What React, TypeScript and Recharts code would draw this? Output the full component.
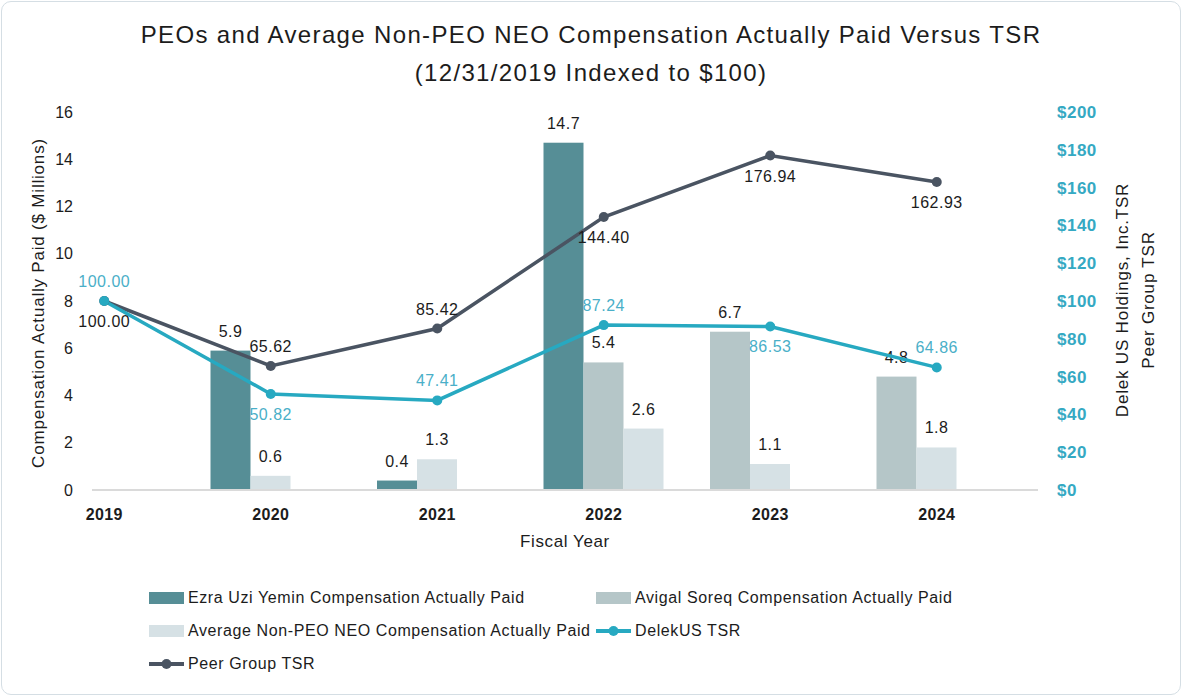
import React from 'react';
import { ComposedChart, Bar, Line, XAxis, YAxis, LabelList } from 'recharts';

const years = ['2019', '2020', '2021', '2022', '2023', '2024'];
const ezraCap = [null, 5.9, 0.4, 14.7, null, null];
const avigalCap = [null, null, null, 5.4, 6.7, 4.8];
const avgNeoCap = [null, 0.6, 1.3, 2.6, 1.1, 1.8];
const delekTsr = [100.0, 50.82, 47.41, 87.24, 86.53, 64.86];
const peerTsr = [100.0, 65.62, 85.42, 144.4, 176.94, 162.93];
const leftTicks = [0, 2, 4, 6, 8, 10, 12, 14, 16];
const rightTicks = [0, 20, 40, 60, 80, 100, 120, 140, 160, 180, 200];

// which side of the point each line label sits on: 1 above, -1 below
const delekLabelSide = [1, -1, 1, 1, -1, 1];
const peerLabelSide = [-1, 1, 1, -1, -1, -1];

const data = years.map((year, i) => ({
  year,
  ezra: ezraCap[i],
  avigal: avigalCap[i],
  avg: avgNeoCap[i],
  delek: delekTsr[i],
  peer: peerTsr[i],
}));

const C = {
  ezra: '#568e96',
  avigal: '#b5c6c8',
  avg: '#d6e1e5',
  delek: '#27a9c1',
  delekText: '#4aafc8',
  peer: '#4a5462',
  text: '#1c1c1c',
  axis: '#dadada',
};

const barKeys = ['ezra', 'avigal', 'avg'];

// bars are packed to the left when an earlier series has no value that year
const packedBar = (key: string) => (props: any) => {
  const { x, y, width, height, fill, payload } = props;
  const v = payload ? payload[key] : null;
  if (v == null || !width) return <g />;
  const before = barKeys
    .slice(0, barKeys.indexOf(key))
    .filter((k) => payload[k] == null).length;
  const bx = x - before * width;
  return (
    <g>
      <rect x={bx} y={y} width={width} height={height} fill={fill} />
      <text
        x={bx + width / 2}
        y={y - 14}
        textAnchor="middle"
        fontSize={16}
        letterSpacing={0.5}
        fill={C.text}
      >
        {Number(v).toFixed(1)}
      </text>
    </g>
  );
};

const lineLabel = (sides: number[], color: string) => (props: any) => {
  const { x, y, value, index } = props;
  const up = sides[index] > 0;
  return (
    <text
      x={x}
      y={up ? y - 14 : y + 26}
      textAnchor="middle"
      fontSize={16}
      letterSpacing={0.5}
      fill={color}
    >
      {Number(value).toFixed(2)}
    </text>
  );
};

const Swatch = ({ color }: { color: string }) => (
  <svg width={35} height={12} style={{ display: 'block' }}>
    <rect x={0} y={0} width={35} height={12} fill={color} />
  </svg>
);

const LineIcon = ({ color }: { color: string }) => (
  <svg width={35} height={12} style={{ display: 'block' }}>
    <line x1={0} y1={6} x2={35} y2={6} stroke={color} strokeWidth={4} />
    <circle cx={17.5} cy={6} r={5} fill={color} />
  </svg>
);

const legendItems = [
  { name: 'Ezra Uzi Yemin Compensation Actually Paid', icon: <Swatch color={C.ezra} />, left: 149, top: 598 },
  { name: 'Avigal Soreq Compensation Actually Paid', icon: <Swatch color={C.avigal} />, left: 596, top: 598 },
  { name: 'Average Non-PEO NEO Compensation Actually Paid', icon: <Swatch color={C.avg} />, left: 149, top: 631 },
  { name: 'DelekUS TSR', icon: <LineIcon color={C.delek} />, left: 596, top: 631 },
  { name: 'Peer Group TSR', icon: <LineIcon color={C.peer} />, left: 149, top: 664 },
];

export default function App() {
  return (
    <div
      style={{
        position: 'absolute',
        left: 0,
        top: 0,
        width: 1182,
        height: 696,
        background: '#fff',
        fontFamily: '"Liberation Sans", Arial, sans-serif',
        color: C.text,
        overflow: 'hidden',
      }}
    >
      <div
        style={{
          position: 'absolute',
          left: 1,
          top: 1,
          width: 1180,
          height: 694,
          boxSizing: 'border-box',
          border: '1.5px solid #d5dee4',
          borderRadius: 10,
        }}
      />
      <div
        style={{
          position: 'absolute',
          left: 0,
          top: 16,
          width: 1182,
          textAlign: 'center',
          fontSize: 24,
          lineHeight: '38px',
          letterSpacing: 1.35,
        }}
      >
        PEOs and Average Non-PEO NEO Compensation Actually Paid Versus TSR
        <br />
        (12/31/2019 Indexed to $100)
      </div>

      <div style={{ position: 'absolute', left: 0, top: 0 }}>
        <ComposedChart
          width={1182}
          height={696}
          data={data}
          barGap={0}
          margin={{ top: 112, right: 0, bottom: 0, left: 0 }}
        >
          <XAxis
            dataKey="year"
            interval={0}
            padding={{ left: -71, right: 18 }}
            height={206}
            axisLine={{ stroke: C.axis, strokeWidth: 2 }}
            tickLine={false}
            tickSize={0}
            tickMargin={19}
            tick={{ fontSize: 16, fontWeight: 700, fill: C.text, letterSpacing: 0.3 }}
            label={{
              value: 'Fiscal Year',
              position: 'insideTop',
              offset: 45,
              fontSize: 17,
              letterSpacing: 0.6,
              fill: C.text,
            }}
          />
          <YAxis
            yAxisId="left"
            orientation="left"
            domain={[0, 16]}
            ticks={leftTicks}
            width={92}
            axisLine={false}
            tickLine={false}
            tickSize={0}
            tickMargin={19}
            tick={{ fontSize: 16, fill: C.text }}
          />
          <YAxis
            yAxisId="right"
            orientation="right"
            domain={[0, 200]}
            ticks={rightTicks}
            width={144}
            axisLine={false}
            tickLine={false}
            tickSize={0}
            tickMargin={19}
            tickFormatter={(v) => `$${v}`}
            tick={{ fontSize: 17, fontWeight: 700, fill: '#35a9c3', letterSpacing: 0.5 }}
          />
          <Bar yAxisId="left" dataKey="ezra" fill={C.ezra} barSize={40} shape={packedBar('ezra')} isAnimationActive={false} />
          <Bar yAxisId="left" dataKey="avigal" fill={C.avigal} barSize={40} shape={packedBar('avigal')} isAnimationActive={false} />
          <Bar yAxisId="left" dataKey="avg" fill={C.avg} barSize={40} shape={packedBar('avg')} isAnimationActive={false} />
          <Line
            yAxisId="right"
            dataKey="peer"
            stroke={C.peer}
            strokeWidth={3.5}
            dot={{ r: 5, fill: C.peer, stroke: C.peer, strokeWidth: 0 }}
            activeDot={false}
            isAnimationActive={false}
          >
            <LabelList dataKey="peer" content={lineLabel(peerLabelSide, C.text)} />
          </Line>
          <Line
            yAxisId="right"
            dataKey="delek"
            stroke={C.delek}
            strokeWidth={3.5}
            dot={{ r: 5, fill: C.delek, stroke: C.delek, strokeWidth: 0 }}
            activeDot={false}
            isAnimationActive={false}
          >
            <LabelList dataKey="delek" content={lineLabel(delekLabelSide, C.delekText)} />
          </Line>
        </ComposedChart>
      </div>

      <svg
        width={1182}
        height={696}
        style={{ position: 'absolute', left: 0, top: 0, pointerEvents: 'none' }}
      >
        <text
          x={38}
          y={303}
          transform="rotate(-90 38 303)"
          textAnchor="middle"
          dominantBaseline="central"
          fontSize={17}
          letterSpacing={0.8}
          fill={C.text}
        >
          Compensation Actually Paid ($ Millions)
        </text>
        <text
          x={1122}
          y={300}
          transform="rotate(-90 1122 300)"
          textAnchor="middle"
          dominantBaseline="central"
          fontSize={17}
          letterSpacing={0.8}
          fill={C.text}
        >
          Delek US Holdings, Inc.TSR
        </text>
        <text
          x={1148}
          y={300}
          transform="rotate(-90 1148 300)"
          textAnchor="middle"
          dominantBaseline="central"
          fontSize={17}
          letterSpacing={0.8}
          fill={C.text}
        >
          Peer Group TSR
        </text>
      </svg>

      {legendItems.map((item) => (
        <div
          key={item.name}
          style={{
            position: 'absolute',
            left: item.left,
            top: item.top - 10,
            height: 20,
            display: 'flex',
            alignItems: 'center',
            fontSize: 16,
            letterSpacing: 0.6,
            whiteSpace: 'nowrap',
          }}
        >
          {item.icon}
          <span style={{ marginLeft: 4 }}>{item.name}</span>
        </div>
      ))}
    </div>
  );
}
